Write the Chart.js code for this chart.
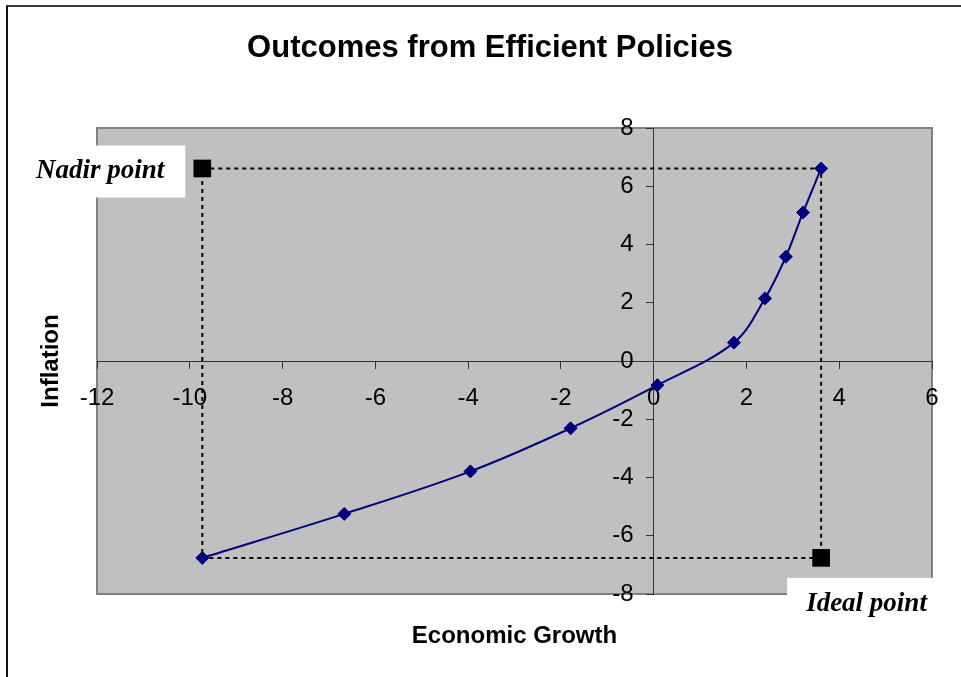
<!DOCTYPE html>
<html>
<head>
<meta charset="utf-8">
<script src="https://cdn.jsdelivr.net/npm/chart.js@4.4.0/dist/chart.umd.min.js"></script>
<style>
  html, body { margin: 0; padding: 0; background: #fff; }
  #wrap { position: relative; width: 961px; height: 677px; overflow: hidden; }
  #myChart { position: absolute; left: 0; top: 0; }
  #frame { position: absolute; left: 6px; top: 5px; right: -10px; bottom: -10px;
           border-top: 2px solid #3a3a3a; border-left: 2px solid #111; pointer-events: none; }
</style>
</head>
<body>
<div id="wrap">
  <canvas id="myChart" width="961" height="677"></canvas>
  <div id="frame"></div>
</div>
<script>
// efficient policy outcomes
var growth = [-9.73, -6.67, -3.95, -1.79, 0.08, 1.73, 2.40, 2.85, 3.22, 3.61];
var inflation = [-6.76, -5.25, -3.79, -2.31, -0.83, 0.63, 2.15, 3.58, 5.10, 6.61];

// worst / best combinations
var nadirPoint = [-9.73, 6.61];
var idealPoint = [3.61, -6.76];

var xMin = -12, xMax = 6;
var yMin = -8, yMax = 8;
var tickStep = 2;

var sans = "'Liberation Sans', Arial, sans-serif";
var serif = "'Liberation Serif', 'Times New Roman', serif";

var frontier = growth.map(function (g, i) {
  return { x: g, y: inflation[i] };
});
var corners = [
  { x: nadirPoint[0], y: nadirPoint[1] },
  { x: idealPoint[0], y: nadirPoint[1] },
  { x: idealPoint[0], y: idealPoint[1] },
  { x: nadirPoint[0], y: idealPoint[1] },
  { x: nadirPoint[0], y: nadirPoint[1] }
];

// gray plot area like the old excel charts
var plotBackground = {
  id: "plotBackground",
  beforeDraw: function (chart) {
    var ctx = chart.ctx, a = chart.chartArea;
    ctx.save();
    ctx.fillStyle = "#fff";
    ctx.fillRect(0, 0, chart.width, chart.height);
    ctx.fillStyle = "#C0C0C0";
    ctx.fillRect(a.left, a.top, a.right - a.left, a.bottom - a.top);
    ctx.strokeStyle = "#808080";
    ctx.lineWidth = 2;
    ctx.strokeRect(a.left, a.top, a.right - a.left, a.bottom - a.top);
    ctx.restore();
  }
};

// the two point labels sit in white boxes
var pointLabels = {
  id: "pointLabels",
  afterDatasetsDraw: function (chart) {
    var ctx = chart.ctx;
    var sx = chart.scales.x, sy = chart.scales.y;
    var nx = sx.getPixelForValue(nadirPoint[0]), ny = sy.getPixelForValue(nadirPoint[1]);
    var ix = sx.getPixelForValue(idealPoint[0]), iy = sy.getPixelForValue(idealPoint[1]);
    ctx.save();
    ctx.fillStyle = "#fff";
    ctx.fillRect(30, ny - 23, nx - 17 - 30, 52);
    ctx.fillRect(ix - 34, iy + 20, 160, 52);
    ctx.fillStyle = "#000";
    ctx.font = "italic bold 27px " + serif;
    ctx.textBaseline = "middle";
    ctx.textAlign = "right";
    ctx.fillText("Nadir point", nx - 38, ny + 3);
    ctx.textAlign = "left";
    ctx.fillText("Ideal point", ix - 15, iy + 46);
    ctx.restore();
  }
};

new Chart("myChart", {
  type: "scatter",
  data: {
    datasets: [
      {
        label: "Outcomes",
        data: frontier,
        showLine: true,
        tension: 0.35,
        borderColor: "#000080",
        borderWidth: 2,
        pointStyle: "rectRot",
        pointRadius: 6.5,
        pointBackgroundColor: "#000080",
        pointBorderColor: "#000080",
        pointBorderWidth: 1,
        xAxisID: "x",
        yAxisID: "y",
        order: 1
      },
      {
        label: "Nadir / Ideal",
        data: [
          { x: nadirPoint[0], y: nadirPoint[1] },
          { x: idealPoint[0], y: idealPoint[1] }
        ],
        pointStyle: "rect",
        pointRadius: 12.5,
        pointBackgroundColor: "#000",
        pointBorderColor: "#000",
        pointBorderWidth: 0,
        xAxisID: "x",
        yAxisID: "y",
        order: 0
      },
      {
        label: "bounds",
        data: corners,
        showLine: true,
        tension: 0,
        borderColor: "#000",
        borderWidth: 2,
        borderDash: [4, 4],
        pointRadius: 0,
        xAxisID: "x",
        yAxisID: "y",
        order: 2
      }
    ]
  },
  options: {
    responsive: false,
    animation: false,
    layout: { padding: { left: 19, right: 0, top: 0, bottom: 0 } },
    plugins: {
      legend: { display: false },
      tooltip: { enabled: false },
      title: {
        display: true,
        text: "Outcomes from Efficient Policies",
        color: "#000",
        font: { family: sans, size: 31, weight: "bold" },
        padding: { top: 29.4, bottom: 61.4 }
      }
    },
    scales: {
      x: {
        type: "linear",
        min: xMin,
        max: xMax,
        position: { y: 0 },
        ticks: { stepSize: tickStep, color: "#000", padding: 16, font: { family: sans, size: 24 } },
        grid: { drawOnChartArea: false, tickLength: 7, color: "#333" },
        border: { color: "#333", width: 1 }
      },
      y: {
        type: "linear",
        min: yMin,
        max: yMax,
        position: { x: 0 },
        ticks: {
          stepSize: tickStep,
          color: "#000",
          font: { family: sans, size: 24 },
          callback: function (v) { return v + "   "; }
        },
        grid: { drawOnChartArea: false, tickLength: 7, color: "#333" },
        border: { color: "#333", width: 1 }
      },
      // title-only axes on the outside
      x2: {
        type: "linear",
        position: "bottom",
        ticks: { display: false },
        grid: { display: false, drawTicks: false },
        border: { display: false },
        title: {
          display: true,
          text: "Economic Growth",
          color: "#000",
          font: { family: sans, size: 24, weight: "bold" },
          padding: { top: 27.6, bottom: 26.6 }
        }
      },
      y2: {
        type: "linear",
        position: "left",
        ticks: { display: false },
        grid: { display: false, drawTicks: false },
        border: { display: false },
        title: {
          display: true,
          text: "Inflation",
          color: "#000",
          font: { family: sans, size: 24, weight: "bold" },
          padding: { top: 17.6, bottom: 31.6 }
        }
      },
      y3: {
        type: "linear",
        position: "right",
        ticks: { display: false },
        grid: { display: false, drawTicks: false },
        border: { display: false },
        afterFit: function (s) { s.width = 29; }
      }
    }
  },
  plugins: [plotBackground, pointLabels]
});
</script>
</body>
</html>
